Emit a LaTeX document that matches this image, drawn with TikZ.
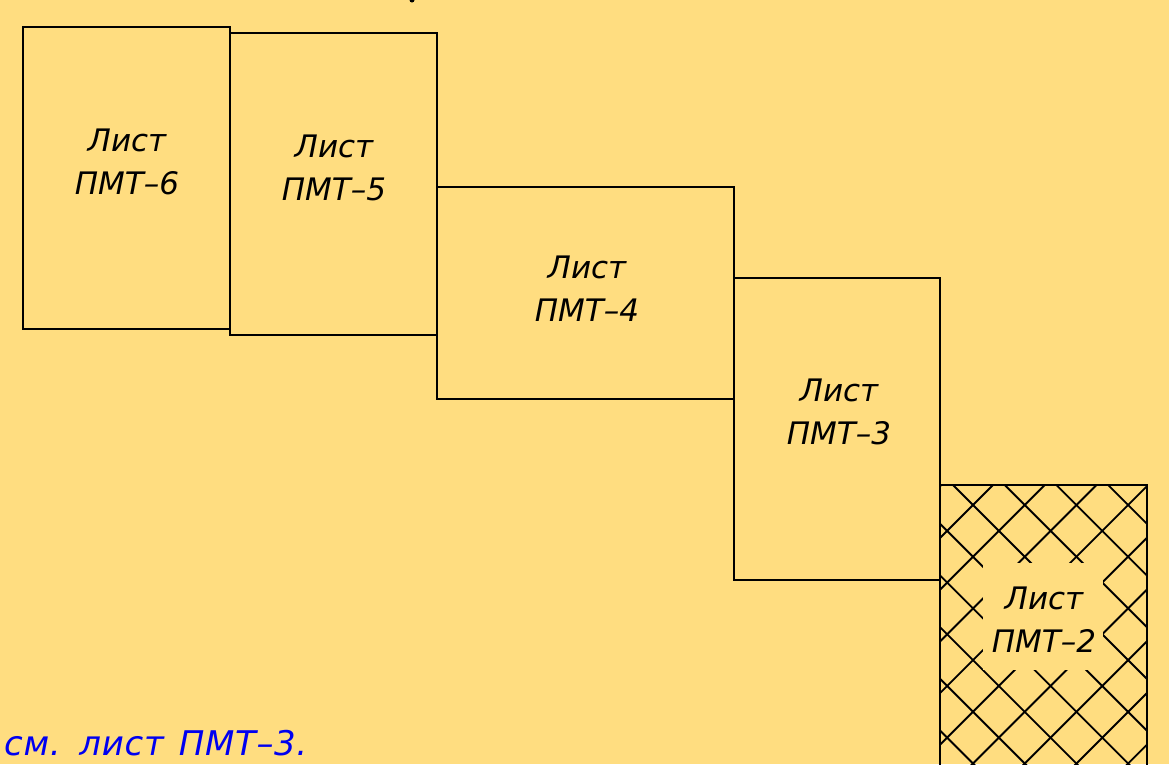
\documentclass[tikz,border=0pt]{standalone}
\usepackage{fontspec}
\setmainfont{DejaVu Sans}
\newfontfamily\notefont[LetterSpace=2,WordSpace=1.3]{DejaVu Sans}
\begin{document}
\begin{tikzpicture}[x=1pt,y=-1pt,
  sheet/.style={draw=black,line width=1.8pt},
  lbl/.style={font=\fontsize{31}{43}\selectfont\itshape,align=center,text=black,inner sep=0pt},
  note/.style={font=\notefont\fontsize{34}{40}\selectfont\itshape,text=notecol,inner sep=0pt,anchor=base west},
  hatch/.style={line width=1.9pt,black}]
\definecolor{bgcol}{RGB}{255,221,128}
\definecolor{notecol}{RGB}{0,0,240}
\fill[bgcol] (0,0) rectangle (1169,764);
\useasboundingbox (0,0) rectangle (1169,764);
% hatch of sheet 2
\begin{scope}
  \clip (940,485) rectangle (1147,770);
  \foreach \k in {-12,...,12} {
    \draw[hatch] ({468+\k*51.7+300},300) -- ({468+\k*51.7+900},900);
    \draw[hatch] ({1478+\k*51.7-300},300) -- ({1478+\k*51.7-900},900);
  }
\end{scope}
\fill[bgcol] (983,563) rectangle (1103,670);
% sheets
\draw[sheet] (23,27) rectangle (230,329);
\draw[sheet] (230,33) rectangle (437,335);
\draw[sheet] (437,187) rectangle (734,399);
\draw[sheet] (734,278) rectangle (940,580);
\draw[sheet] (940,800) -- (940,485) -- (1147,485) -- (1147,800);
% labels
\node[lbl] (t6) at (127,162) {Лист\\ПМТ–6};
\node[lbl] (t5) at (334,168) {Лист\\ПМТ–5};
\node[lbl] (t4) at (587,289) {Лист\\ПМТ–4};
\node[lbl] (t3) at (839,412) {Лист\\ПМТ–3};
\node[lbl] (t2) at (1044,620) {Лист\\ПМТ–2};
\node[note] (n) at (4,755) {см. лист ПМТ–3.};
\fill[black] (412,0) circle (2.5);
\end{tikzpicture}
\end{document}
